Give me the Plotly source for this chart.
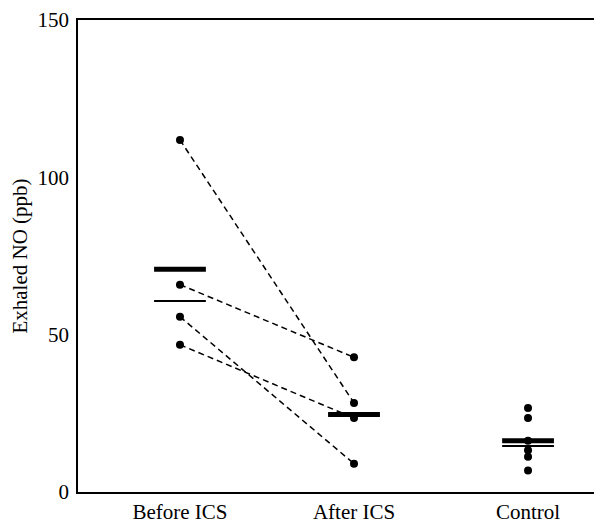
import plotly.graph_objects as go

categories = ["Before ICS", "After ICS", "Control"]
before_ics = [111.9, 65.9, 55.7, 46.8]
after_ics = [28.3, 42.8, 9.0, 23.5]
control = [26.7, 23.5, 16.3, 13.3, 11.2, 6.8]
means = [70.8, 24.6, 16.3]
medians = [60.7, 24.6, 14.6]
y_ticks = [0, 50, 100, 150]

fig = go.Figure()

# paired dashed lines
for b, a in zip(before_ics, after_ics):
    fig.add_trace(go.Scatter(
        x=[categories[0], categories[1]], y=[b, a], mode="lines",
        line=dict(color="black", width=1.5, dash="6px,4px"),
        showlegend=False, hoverinfo="skip"))

# points
fig.add_trace(go.Scatter(
    x=[categories[0]] * len(before_ics) + [categories[1]] * len(after_ics) + [categories[2]] * len(control),
    y=before_ics + after_ics + control, mode="markers",
    marker=dict(color="black", size=8), showlegend=False))

# median (thin) and mean (thick) bars
fig.add_trace(go.Scatter(
    x=categories, y=medians, mode="markers",
    marker=dict(symbol="line-ew", size=37, line=dict(color="black", width=2)),
    showlegend=False))
fig.add_trace(go.Scatter(
    x=categories, y=means, mode="markers",
    marker=dict(symbol="line-ew", size=37, line=dict(color="black", width=5)),
    showlegend=False))

font = dict(family="Liberation Serif, Times New Roman, serif", size=21, color="black")

fig.update_layout(
    width=602, height=524,
    margin=dict(l=70, r=0, t=12, b=40),
    paper_bgcolor="white", plot_bgcolor="white",
    font=font,
    xaxis=dict(type="category", categoryarray=categories, range=[-0.586, 2.471],
               showline=True, linecolor="black", linewidth=1.5, mirror=True,
               showgrid=False, zeroline=False, ticks="", tickfont=font),
    yaxis=dict(range=[0, 150], tickvals=y_ticks, showline=True, linecolor="black",
               linewidth=1.5, showgrid=False, zeroline=False,
               ticks="outside", ticklen=3, tickcolor="rgba(0,0,0,0)",
               ticklabeloverflow="allow", automargin=False,
               tickfont=font, title=dict(text="Exhaled NO (ppb)", font=font, standoff=5)),
)

fig.write_html("out.html")
